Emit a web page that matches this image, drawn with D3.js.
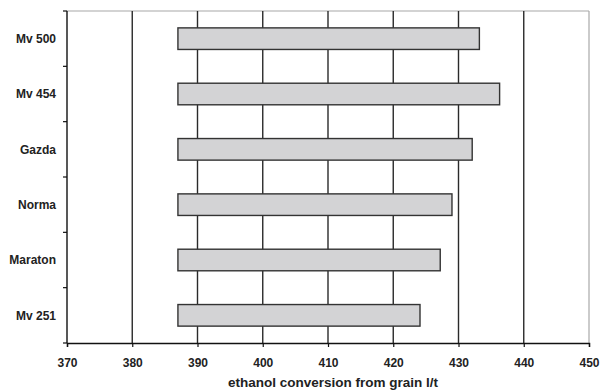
<!DOCTYPE html>
<html>
<head>
<meta charset="utf-8">
<script src="https://cdn.jsdelivr.net/npm/d3@7"></script>
<style>
  html, body { margin: 0; padding: 0; background: #fff; }
  svg { display: block; }
  text { font-family: "Liberation Sans", Arial, sans-serif; font-weight: bold; fill: #222; }
</style>
</head>
<body>
<svg id="chart" width="600" height="392"></svg>
<script>
// Varieties, top to bottom
const varieties = ["Mv 500", "Mv 454", "Gazda", "Norma", "Maraton", "Mv 251"];
// Range of ethanol conversion (l/t): lower and upper values per variety
const rangeLow  = [387, 387, 387, 387, 387, 387];
const rangeHigh = [433.2, 436.3, 432.1, 429, 427.2, 424.1];
// Axis ticks
const xTicks = [370, 380, 390, 400, 410, 420, 430, 440, 450];
const xTitle = "ethanol conversion from grain l/t";

const svg = d3.select("#chart");
const margin = { top: 11, right: 11, bottom: 49, left: 67 };
const W = 600, H = 392;
const iw = W - margin.left - margin.right;
const ih = H - margin.top - margin.bottom;

const g = svg.append("g").attr("transform", `translate(${margin.left},${margin.top})`);

const x = d3.scaleLinear().domain([370, 450]).range([0, iw]);
const y = d3.scaleBand().domain(varieties).range([0, ih]).paddingInner(0.61).paddingOuter(0.305);
const yBand = d3.scaleBand().domain(varieties).range([0, ih]);

// Plot frame (top and right in grey)
g.append("line").attr("x1", 0).attr("x2", iw).attr("y1", 0).attr("y2", 0)
  .attr("stroke", "#a8a8a8").attr("stroke-width", 1.2);
g.append("line").attr("x1", iw).attr("x2", iw).attr("y1", 0).attr("y2", ih)
  .attr("stroke", "#a8a8a8").attr("stroke-width", 1.2);

// Vertical gridlines
g.selectAll("line.grid").data(xTicks.slice(1, -1)).join("line")
  .attr("class", "grid")
  .attr("x1", d => x(d)).attr("x2", d => x(d))
  .attr("y1", 0).attr("y2", ih)
  .attr("stroke", "#2a2a2a").attr("stroke-width", 1.4);

// Bars
const rows = varieties.map((v, i) => ({ v, lo: rangeLow[i], hi: rangeHigh[i] }));
g.selectAll("rect.bar").data(rows).join("rect")
  .attr("class", "bar")
  .attr("x", d => x(d.lo))
  .attr("width", d => x(d.hi) - x(d.lo))
  .attr("y", d => y(d.v))
  .attr("height", y.bandwidth())
  .attr("fill", "#d3d3d5")
  .attr("stroke", "#333")
  .attr("stroke-width", 1.4);

// X axis
const xAxis = d3.axisBottom(x).tickValues(xTicks).tickSize(4).tickPadding(11).tickFormat(d3.format("d"));
const gx = g.append("g").attr("transform", `translate(0,${ih})`).call(xAxis);
gx.select(".domain").attr("stroke", "#111").attr("stroke-width", 1.4);
gx.selectAll(".tick line").attr("stroke", "#111").attr("stroke-width", 1.2);
gx.selectAll(".tick text").attr("font-size", 12).style("fill", "#222");

// Y axis: ticks at band boundaries, labels centred in bands
const yEdges = varieties.map(v => yBand(v)).concat([ih]);
const gy = g.append("g");
gy.append("line").attr("x1", 0).attr("x2", 0).attr("y1", 0).attr("y2", ih)
  .attr("stroke", "#111").attr("stroke-width", 1.4);
gy.selectAll("line.ytick").data(yEdges).join("line")
  .attr("class", "ytick")
  .attr("x1", -4).attr("x2", 0)
  .attr("y1", d => d).attr("y2", d => d)
  .attr("stroke", "#111").attr("stroke-width", 1.2);
gy.selectAll("text.ylab").data(varieties).join("text")
  .attr("class", "ylab")
  .attr("x", -11)
  .attr("y", d => yBand(d) + yBand.bandwidth() / 2)
  .attr("dy", "0.35em")
  .attr("text-anchor", "end")
  .attr("font-size", 12)
  .text(d => d);

// X axis title
svg.append("text")
  .attr("x", margin.left + iw / 2 + 5)
  .attr("y", 387)
  .attr("text-anchor", "middle")
  .attr("font-size", 13.5)
  .text(xTitle);
</script>
</body>
</html>
